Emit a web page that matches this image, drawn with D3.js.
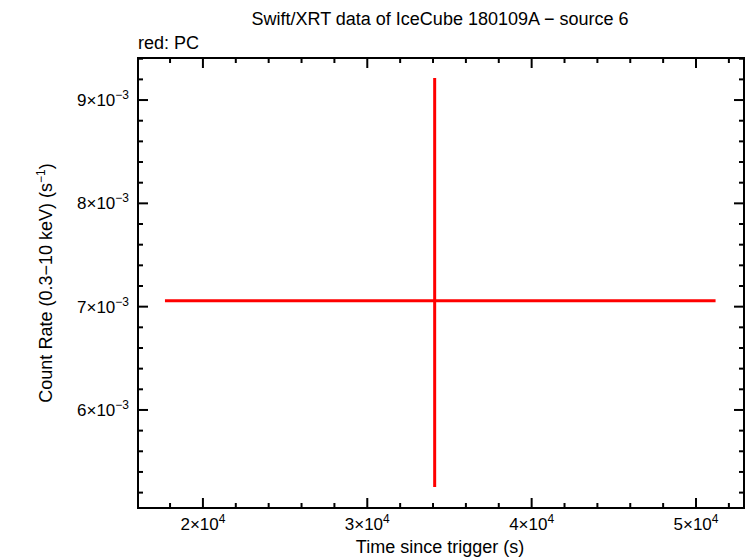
<!DOCTYPE html><html><head><meta charset="utf-8"><script src="https://d3js.org/d3.v7.min.js"></script>
<style>body{margin:0;background:#fff}text{font-family:"Liberation Sans",Arial,sans-serif;fill:#000}</style></head><body>
<svg id="c" width="746" height="558"></svg>
<script>
const times=[34100], timeErrLo=[16410], timeErrHi=[17090];
const rates=[7.058e-3], rateErrLo=[1.803e-3], rateErrHi=[2.155e-3];
const xTicks=[2e4,3e4,4e4,5e4], xTickLabels=["2","3","4","5"];
const yTicks=[6e-3,7e-3,8e-3,9e-3], yTickLabels=["6","7","8","9"];
const svg=d3.select("#c");
const L=138,R=744,T=58,B=508;
const x=d3.scaleLinear().domain([16050,52920]).range([L,R]);
const y=d3.scaleLinear().domain([5.051e-3,9.407e-3]).range([B,T]);
const g=svg.append("g");
const xMinor=d3.range(16000,53000,2000).filter(v=>v>=16050&&v<=52920);
const yMinor=d3.range(5.2e-3,9.41e-3,2e-4);
function tk(x1,y1,x2,y2){g.append("line").attr("x1",x1).attr("y1",y1).attr("x2",x2).attr("y2",y2).attr("stroke","#000").attr("stroke-width",2);}
xMinor.forEach(v=>{const big=xTicks.includes(v);const l=big?10:5;tk(x(v),B,x(v),B-l);tk(x(v),T,x(v),T+l);});
yMinor.forEach(v=>{const big=yTicks.some(t=>Math.abs(t-v)<1e-9);const l=big?10:5;tk(L,y(v),L+l,y(v));tk(R,y(v),R-l,y(v));});
g.append("rect").attr("x",L).attr("y",T).attr("width",R-L).attr("height",B-T).attr("fill","none").attr("stroke","#000").attr("stroke-width",2);
xTicks.forEach((v,i)=>{const t=svg.append("text").attr("x",x(v)).attr("y",530).attr("text-anchor","middle").attr("font-size",17);
 t.append("tspan").text(xTickLabels[i]+"×10");t.append("tspan").attr("dy",-7).attr("font-size",12).text("4");});
yTicks.forEach((v,i)=>{const t=svg.append("text").attr("x",129).attr("y",y(v)+6).attr("text-anchor","end").attr("font-size",17);
 t.append("tspan").text(yTickLabels[i]+"×10");t.append("tspan").attr("dy",-7).attr("font-size",12).text("−3");});
svg.append("text").attr("x",440).attr("y",553).attr("text-anchor","middle").attr("font-size",18).text("Time since trigger (s)");
const yl=svg.append("text").attr("transform","translate(52,283) rotate(-90)").attr("text-anchor","middle").attr("font-size",18);
yl.append("tspan").text("Count Rate (0.3−10 keV) (s");yl.append("tspan").attr("dy",-7).attr("font-size",12).text("−1");yl.append("tspan").attr("dy",7).text(")");
svg.append("text").attr("x",440).attr("y",25).attr("text-anchor","middle").attr("font-size",18).text("Swift/XRT data of IceCube 180109A − source 6");
svg.append("text").attr("x",138).attr("y",49).attr("font-size",18).text("red: PC");
const d=times.map((t,i)=>({t,r:rates[i],tl:timeErrLo[i],th:timeErrHi[i],rl:rateErrLo[i],rh:rateErrHi[i]}));
d.forEach(p=>{
 svg.append("line").attr("x1",x(p.t-p.tl)).attr("x2",x(p.t+p.th)).attr("y1",y(p.r)).attr("y2",y(p.r)).attr("stroke","red").attr("stroke-width",3);
 svg.append("line").attr("x1",x(p.t)).attr("x2",x(p.t)).attr("y1",y(p.r-p.rl)).attr("y2",y(p.r+p.rh)).attr("stroke","red").attr("stroke-width",3);
});
</script></body></html>
